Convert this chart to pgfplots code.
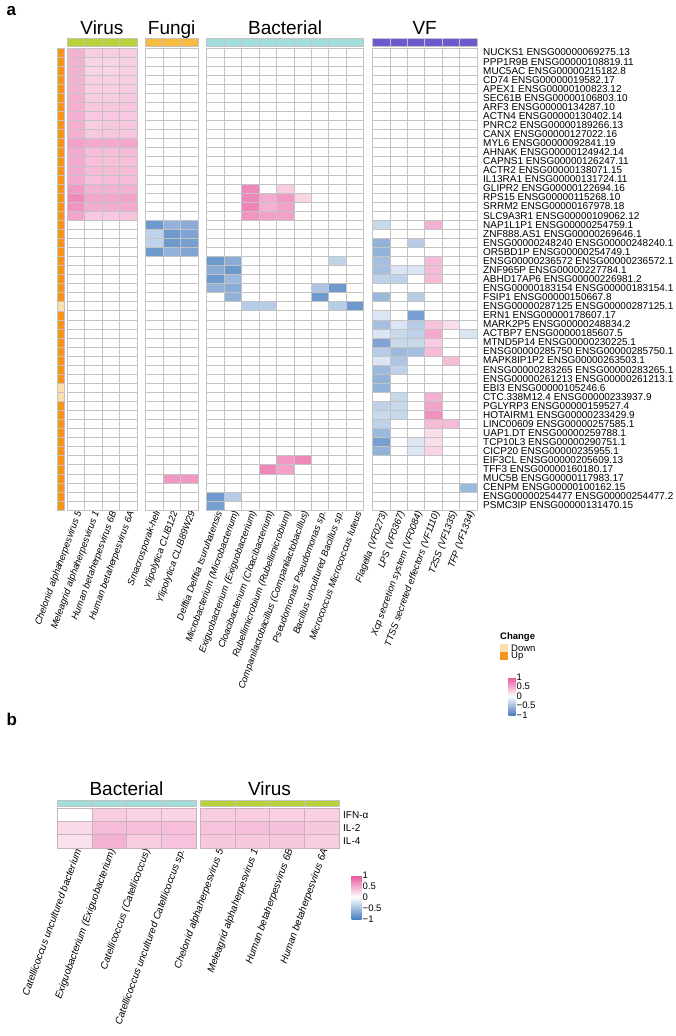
\documentclass[border=0pt]{standalone}
\usepackage{fontspec}
\setmainfont{Liberation Sans}
\usepackage{pgfplots}
\usepackage{pgfplotstable}
\pgfplotsset{compat=1.18}

\definecolor{gridc}{RGB}{195,195,195}
\definecolor{gridb}{RGB}{200,178,190}
\definecolor{upc}{RGB}{247,148,29}
\definecolor{downc}{RGB}{252,223,175}
\definecolor{virc}{RGB}{184,211,58}
\definecolor{fungc}{RGB}{245,186,64}
\definecolor{bactc}{RGB}{160,221,219}
\definecolor{vfc}{RGB}{106,90,205}

\newcommand{\lab}{\fontsize{10}{12}\selectfont}
\newcommand{\clab}{\fontsize{9.5}{11}\selectfont}
\newcommand{\leg}{\fontsize{9.5}{11}\selectfont}
\newcommand{\ttl}{\fontsize{19}{22}\selectfont}

% cell shapes, in the units of the two heatmaps
\pgfdeclareplotmark{cella}{\pgfpathrectangle{\pgfpoint{-8.72pt}{-4.53pt}}{\pgfpoint{17.45pt}{9.06pt}}\pgfusepathqfillstroke}
\pgfdeclareplotmark{bara}{\pgfpathrectangle{\pgfpoint{-8.72pt}{-4pt}}{\pgfpoint{17.45pt}{8pt}}\pgfusepathqfillstroke}
\pgfdeclareplotmark{stripa}{\pgfpathrectangle{\pgfpoint{-3.5pt}{-4.53pt}}{\pgfpoint{7pt}{9.06pt}}\pgfusepathqfillstroke}
\pgfdeclareplotmark{cellb}{\pgfpathrectangle{\pgfpoint{-17.37pt}{-6.67pt}}{\pgfpoint{34.75pt}{13.33pt}}\pgfusepathqfillstroke}
\pgfdeclareplotmark{barb}{\pgfpathrectangle{\pgfpoint{-17.37pt}{-3pt}}{\pgfpoint{34.75pt}{6pt}}\pgfusepathqfillstroke}

\pgfplotsset{
  heat/.style={scatter, only marks, mark=#1,
    scatter/use mapped color={draw=gridc, fill=mapped color},
    mark options={line width=0.5pt}},
  heatb/.style={scatter, only marks, mark=cellb,
    scatter/use mapped color={draw=gridb, fill=mapped color},
    mark options={line width=0.5pt}},
}

% panel a: one row per gene, one column per taxon / factor
\pgfplotstableread{
row c1 c2 c3 c4
1 0.45 0.30 0.30 0.30
2 0.45 0.25 0.25 0.28
3 0.45 0.25 0.25 0.28
4 0.45 0.28 0.28 0.30
5 0.45 0.28 0.28 0.30
6 0.47 0.30 0.30 0.32
7 0.47 0.32 0.32 0.34
8 0.47 0.32 0.32 0.32
9 0.47 0.30 0.32 0.32
10 0.47 0.32 0.34 0.34
11 0.55 0.50 0.50 0.52
12 0.50 0.38 0.38 0.40
13 0.50 0.38 0.38 0.38
14 0.50 0.40 0.40 0.40
15 0.50 0.38 0.40 0.40
16 0.60 0.45 0.45 0.45
17 0.68 0.52 0.52 0.55
18 0.62 0.48 0.48 0.50
19 0.52 0.32 0.32 0.35
20 0 0 0 0
21 0 0 0 0
22 0 0 0 0
23 0 0 0 0
24 0 0 0 0
25 0 0 0 0
26 0 0 0 0
27 0 0 0 0
28 0 0 0 0
29 0 0 0 0
30 0 0 0 0
31 0 0 0 0
32 0 0 0 0
33 0 0 0 0
34 0 0 0 0
35 0 0 0 0
36 0 0 0 0
37 0 0 0 0
38 0 0 0 0
39 0 0 0 0
40 0 0 0 0
41 0 0 0 0
42 0 0 0 0
43 0 0 0 0
44 0 0 0 0
45 0 0 0 0
46 0 0 0 0
47 0 0 0 0
48 0 0 0 0
49 0 0 0 0
50 0 0 0 0
51 0 0 0 0
}\virus

\pgfplotstableread{
row c1 c2 c3
1 0 0 0
2 0 0 0
3 0 0 0
4 0 0 0
5 0 0 0
6 0 0 0
7 0 0 0
8 0 0 0
9 0 0 0
10 0 0 0
11 0 0 0
12 0 0 0
13 0 0 0
14 0 0 0
15 0 0 0
16 0 0 0
17 0 0 0
18 0 0 0
19 0 0 0
20 -0.80 -0.60 -0.65
21 -0.35 -0.80 -0.70
22 -0.35 -0.80 -0.75
23 -0.80 -0.60 -0.70
24 0 0 0
25 0 0 0
26 0 0 0
27 0 0 0
28 0 0 0
29 0 0 0
30 0 0 0
31 0 0 0
32 0 0 0
33 0 0 0
34 0 0 0
35 0 0 0
36 0 0 0
37 0 0 0
38 0 0 0
39 0 0 0
40 0 0 0
41 0 0 0
42 0 0 0
43 0 0 0
44 0 0 0
45 0 0 0
46 0 0 0
47 0 0 0
48 0 0.60 0.60
49 0 0 0
50 0 0 0
51 0 0 0
}\fungi

\pgfplotstableread{
row c1 c2 c3 c4 c5 c6 c7 c8 c9
1 0 0 0 0 0 0 0 0 0
2 0 0 0 0 0 0 0 0 0
3 0 0 0 0 0 0 0 0 0
4 0 0 0 0 0 0 0 0 0
5 0 0 0 0 0 0 0 0 0
6 0 0 0 0 0 0 0 0 0
7 0 0 0 0 0 0 0 0 0
8 0 0 0 0 0 0 0 0 0
9 0 0 0 0 0 0 0 0 0
10 0 0 0 0 0 0 0 0 0
11 0 0 0 0 0 0 0 0 0
12 0 0 0 0 0 0 0 0 0
13 0 0 0 0 0 0 0 0 0
14 0 0 0 0 0 0 0 0 0
15 0 0 0 0 0 0 0 0 0
16 0 0 0.70 0 0.30 0 0 0 0
17 0 0 0.70 0.50 0.60 0.25 0 0 0
18 0 0 0.72 0.45 0.55 0 0 0 0
19 0 0 0.62 0.55 0.55 0 0 0 0
20 0 0 0 0 0 0 0 0 0
21 0 0 0 0 0 0 0 0 0
22 0 0 0 0 0 0 0 0 0
23 0 0 0 0 0 0 0 0 0
24 -0.80 -0.65 0 0 0 0 0 -0.35 0
25 -0.65 -0.80 0 0 0 0 0 0 0
26 -0.80 -0.55 0 0 0 0 0 0 0
27 -0.60 -0.65 0 0 0 0 -0.45 -0.80 0
28 0 -0.60 0 0 0 0 -0.80 0 0
29 0 0 -0.40 -0.40 0 0 0 -0.40 -0.80
30 0 0 0 0 0 0 0 0 0
31 0 0 0 0 0 0 0 0 0
32 0 0 0 0 0 0 0 0 0
33 0 0 0 0 0 0 0 0 0
34 0 0 0 0 0 0 0 0 0
35 0 0 0 0 0 0 0 0 0
36 0 0 0 0 0 0 0 0 0
37 0 0 0 0 0 0 0 0 0
38 0 0 0 0 0 0 0 0 0
39 0 0 0 0 0 0 0 0 0
40 0 0 0 0 0 0 0 0 0
41 0 0 0 0 0 0 0 0 0
42 0 0 0 0 0 0 0 0 0
43 0 0 0 0 0 0 0 0 0
44 0 0 0 0 0 0 0 0 0
45 0 0 0 0 0 0 0 0 0
46 0 0 0 0 0.60 0.70 0 0 0
47 0 0 0 0.70 0.55 0 0 0 0
48 0 0 0 0 0 0 0 0 0
49 0 0 0 0 0 0 0 0 0
50 -0.80 -0.40 0 0 0 0 0 0 0
51 -0.75 0 0 0 0 0 0 0 0
}\bact

\pgfplotstableread{
row c1 c2 c3 c4 c5 c6
1 0 0 0 0 0 0
2 0 0 0 0 0 0
3 0 0 0 0 0 0
4 0 0 0 0 0 0
5 0 0 0 0 0 0
6 0 0 0 0 0 0
7 0 0 0 0 0 0
8 0 0 0 0 0 0
9 0 0 0 0 0 0
10 0 0 0 0 0 0
11 0 0 0 0 0 0
12 0 0 0 0 0 0
13 0 0 0 0 0 0
14 0 0 0 0 0 0
15 0 0 0 0 0 0
16 0 0 0 0 0 0
17 0 0 0 0 0 0
18 0 0 0 0 0 0
19 0 0 0 0 0 0
20 -0.30 0 0 0.45 0 0
21 0 0 0 0 0 0
22 -0.60 0 -0.40 0 0 0
23 -0.60 0 0 0 0 0
24 -0.50 0 0 0.40 0 0
25 -0.50 -0.20 -0.20 0.40 0 0
26 -0.35 -0.35 0 0.40 0 0
27 0 0 0 0 0 0
28 -0.55 0 -0.40 0 0 0
29 0 0 0 0 0 0
30 -0.20 0 -0.75 0 0 0
31 -0.50 -0.20 -0.40 0.35 0.20 0
32 -0.20 -0.30 -0.35 0.50 0 -0.20
33 -0.70 -0.30 -0.30 0.30 0 0
34 -0.40 -0.55 -0.50 0.40 0 0
35 -0.20 -0.45 0 0 0.40 0
36 -0.55 -0.35 0 0 0 0
37 -0.60 0 0 0 0 0
38 -0.60 0 0 0 0 0
39 0 -0.30 0 0.45 0 0
40 -0.35 -0.30 0 0.55 0 0
41 -0.30 -0.30 0 0.65 0 0
42 -0.35 0 0 0.40 0.40 0
43 -0.55 0 0 0.20 0 0
44 -0.75 0 -0.20 0.20 0 0
45 -0.60 0 -0.20 0.25 0 0
46 0 0 0 0 0 0
47 0 0 0 0 0 0
48 0 0 0 0 0 0
49 0 0 0 0 0 -0.55
50 0 0 0 0 0 0
51 0 0 0 0 0 0
}\vf

% panel b: IFN-a, IL-2, IL-4
\pgfplotstableread{
row c1 c2 c3 c4
1 0 0.30 0.25 0.25
2 0.22 0.40 0.38 0.38
3 0.18 0.45 0.30 0.35
}\cytobact
\pgfplotstableread{
row c1 c2 c3 c4
1 0.30 0.30 0.28 0.28
2 0.35 0.38 0.36 0.33
3 0.33 0.33 0.33 0.30
}\cytovir

\begin{document}
\begin{tikzpicture}
\path[use as bounding box] (0,0) rectangle (675pt,-1036pt);

\begin{axis}[
  name=pa, at={(67pt,-48pt)}, anchor=north west,
  scale only axis, width=410pt, height=462pt,
  xmin=-0.5, xmax=23, ymin=-51.5, ymax=-0.5,
  clip=false,
  axis line style={draw=none}, major tick length=0pt,
  colormap={bwp}{rgb255(0cm)=(74,127,193) rgb255(1cm)=(255,255,255) rgb255(2cm)=(231,84,156)},
  point meta min=-1, point meta max=1,
  xtick={0,1,2,3,4.5,5.5,6.5,8,9,10,11,12,13,14,15,16,17.5,18.5,19.5,20.5,21.5,22.5},
  xticklabels={Chelonid alphaherpesvirus 5, Meleagrid alphaherpesvirus 1,
    Human betaherpesvirus 6B, Human betaherpesvirus 6A,
    Smacrosporak-hell, Ylipolytica CLIB122, Ylipolytica CLIB89W29,
    Delftia Delftia tsuruhatensis, Microbacterium (Microbacterium),
    Exiguobacterium (Exiguobacterium), Cloacibacterium (Cloacibacterium),
    Rubellimicrobium (Rubellimicrobium), Companilactobacillus (Companilactobacillus),
    Pseudomonas Pseudomonas sp., Bacillus uncultured Bacillus sp.,
    Micrococcus Micrococcus luteus,
    Flagella (VF0273), LPS (VF0367), Xcp secretion system (VF0084),
    TTSS secreted effectors (VF1110), T2SS (VF1335), TFP (VF1334)},
  xticklabel style={rotate=70, anchor=east, font=\clab\itshape, inner sep=0pt, yshift=-4pt},
  ytick={-51,-50,...,-1},
  yticklabels={PSMC3IP ENSG00000131470.15, ENSG00000254477 ENSG00000254477.2,
    CENPM ENSG00000100162.15, MUC5B ENSG00000117983.17, TFF3 ENSG00000160180.17,
    EIF3CL ENSG00000205609.13, CICP20 ENSG00000235955.1, TCP10L3 ENSG00000290751.1,
    UAP1.DT ENSG00000259788.1, LINC00609 ENSG00000257585.1, HOTAIRM1 ENSG00000233429.9,
    PGLYRP3 ENSG00000159527.4, CTC.338M12.4 ENSG00000233937.9, EBI3 ENSG00000105246.6,
    ENSG00000261213 ENSG00000261213.1, ENSG00000283265 ENSG00000283265.1,
    MAPK8IP1P2 ENSG00000263503.1, ENSG00000285750 ENSG00000285750.1,
    MTND5P14 ENSG00000230225.1, ACTBP7 ENSG00000185607.5, MARK2P5 ENSG00000248834.2,
    ERN1 ENSG00000178607.17, ENSG00000287125 ENSG00000287125.1, FSIP1 ENSG00000150667.8,
    ENSG00000183154 ENSG00000183154.1, ABHD17AP6 ENSG00000226981.2,
    ZNF965P ENSG00000227784.1, ENSG00000236572 ENSG00000236572.1,
    OR5BD1P ENSG00000254749.1, ENSG00000248240 ENSG00000248240.1,
    ZNF888.AS1 ENSG00000269646.1, NAP1L1P1 ENSG00000254759.1,
    SLC9A3R1 ENSG00000109062.12, SRRM2 ENSG00000167978.18, RPS15 ENSG00000115268.10,
    GLIPR2 ENSG00000122694.16, IL13RA1 ENSG00000131724.11, ACTR2 ENSG00000138071.15,
    CAPNS1 ENSG00000126247.11, AHNAK ENSG00000124942.14, MYL6 ENSG00000092841.19,
    CANX ENSG00000127022.16, PNRC2 ENSG00000189266.13, ACTN4 ENSG00000130402.14,
    ARF3 ENSG00000134287.10, SEC61B ENSG00000106803.10, APEX1 ENSG00000100823.12,
    CD74 ENSG00000019582.17, MUC5AC ENSG00000215182.8, PPP1R9B ENSG00000108819.11,
    NUCKS1 ENSG00000069275.13},
  yticklabel pos=right,
  yticklabel style={anchor=west, font=\lab, inner sep=0pt, xshift=6pt},
  colorbar,
  colorbar style={at={(parent axis.north east)}, anchor=north west,
    xshift=23pt, yshift=-629pt, scale only axis, width=7pt, height=38pt,
    ytick={-1,-0.5,0,0.5,1}, yticklabels={−1,−0.5,0,0.5,1},
    yticklabel style={font=\leg, inner sep=1pt},
    axis line style={draw=none}, major tick length=0pt},
]
% Virus
\addplot[heat=cella, point meta=\thisrow{c1}] table[x expr=0, y expr=-\thisrow{row}] {\virus};
\addplot[heat=cella, point meta=\thisrow{c2}] table[x expr=1, y expr=-\thisrow{row}] {\virus};
\addplot[heat=cella, point meta=\thisrow{c3}] table[x expr=2, y expr=-\thisrow{row}] {\virus};
\addplot[heat=cella, point meta=\thisrow{c4}] table[x expr=3, y expr=-\thisrow{row}] {\virus};
% Fungi
\addplot[heat=cella, point meta=\thisrow{c1}] table[x expr=4.5, y expr=-\thisrow{row}] {\fungi};
\addplot[heat=cella, point meta=\thisrow{c2}] table[x expr=5.5, y expr=-\thisrow{row}] {\fungi};
\addplot[heat=cella, point meta=\thisrow{c3}] table[x expr=6.5, y expr=-\thisrow{row}] {\fungi};
% Bacterial
\addplot[heat=cella, point meta=\thisrow{c1}] table[x expr=8, y expr=-\thisrow{row}] {\bact};
\addplot[heat=cella, point meta=\thisrow{c2}] table[x expr=9, y expr=-\thisrow{row}] {\bact};
\addplot[heat=cella, point meta=\thisrow{c3}] table[x expr=10, y expr=-\thisrow{row}] {\bact};
\addplot[heat=cella, point meta=\thisrow{c4}] table[x expr=11, y expr=-\thisrow{row}] {\bact};
\addplot[heat=cella, point meta=\thisrow{c5}] table[x expr=12, y expr=-\thisrow{row}] {\bact};
\addplot[heat=cella, point meta=\thisrow{c6}] table[x expr=13, y expr=-\thisrow{row}] {\bact};
\addplot[heat=cella, point meta=\thisrow{c7}] table[x expr=14, y expr=-\thisrow{row}] {\bact};
\addplot[heat=cella, point meta=\thisrow{c8}] table[x expr=15, y expr=-\thisrow{row}] {\bact};
\addplot[heat=cella, point meta=\thisrow{c9}] table[x expr=16, y expr=-\thisrow{row}] {\bact};
% VF
\addplot[heat=cella, point meta=\thisrow{c1}] table[x expr=17.5, y expr=-\thisrow{row}] {\vf};
\addplot[heat=cella, point meta=\thisrow{c2}] table[x expr=18.5, y expr=-\thisrow{row}] {\vf};
\addplot[heat=cella, point meta=\thisrow{c3}] table[x expr=19.5, y expr=-\thisrow{row}] {\vf};
\addplot[heat=cella, point meta=\thisrow{c4}] table[x expr=20.5, y expr=-\thisrow{row}] {\vf};
\addplot[heat=cella, point meta=\thisrow{c5}] table[x expr=21.5, y expr=-\thisrow{row}] {\vf};
\addplot[heat=cella, point meta=\thisrow{c6}] table[x expr=22.5, y expr=-\thisrow{row}] {\vf};

% group bars on top
\addplot[only marks, mark=bara, mark options={fill=virc, draw=gridc, line width=0.5pt}]
  coordinates {(0,0.162) (1,0.162) (2,0.162) (3,0.162)};
\addplot[only marks, mark=bara, mark options={fill=fungc, draw=gridc, line width=0.5pt}]
  coordinates {(4.5,0.162) (5.5,0.162) (6.5,0.162)};
\addplot[only marks, mark=bara, mark options={fill=bactc, draw=gridc, line width=0.5pt}]
  coordinates {(8,0.162) (9,0.162) (10,0.162) (11,0.162) (12,0.162) (13,0.162) (14,0.162) (15,0.162) (16,0.162)};
\addplot[only marks, mark=bara, mark options={fill=vfc, draw=gridc, line width=0.5pt}]
  coordinates {(17.5,0.162) (18.5,0.162) (19.5,0.162) (20.5,0.162) (21.5,0.162) (22.5,0.162)};

% change strip on the left
\addplot[only marks, mark=stripa, mark options={fill=upc, draw=gridc, line width=0.4pt}]
  coordinates {(-0.872,-1) (-0.872,-2) (-0.872,-3) (-0.872,-4) (-0.872,-5) (-0.872,-6)
  (-0.872,-7) (-0.872,-8) (-0.872,-9) (-0.872,-10) (-0.872,-11) (-0.872,-12)
  (-0.872,-13) (-0.872,-14) (-0.872,-15) (-0.872,-16) (-0.872,-17) (-0.872,-18)
  (-0.872,-19) (-0.872,-20) (-0.872,-21) (-0.872,-22) (-0.872,-23) (-0.872,-24)
  (-0.872,-25) (-0.872,-26) (-0.872,-27) (-0.872,-28) (-0.872,-30) (-0.872,-31)
  (-0.872,-32) (-0.872,-33) (-0.872,-34) (-0.872,-35) (-0.872,-36) (-0.872,-37)
  (-0.872,-40) (-0.872,-41) (-0.872,-42) (-0.872,-43) (-0.872,-44) (-0.872,-45)
  (-0.872,-46) (-0.872,-47) (-0.872,-48) (-0.872,-49) (-0.872,-50) (-0.872,-51)};
\addplot[only marks, mark=stripa, mark options={fill=downc, draw=gridc, line width=0.4pt}]
  coordinates {(-0.872,-29) (-0.872,-38) (-0.872,-39)};

\node[anchor=base, font=\ttl] at (axis cs:1.5,1.045) {Virus};
\node[anchor=base, font=\ttl] at (axis cs:5.5,1.045) {Fungi};
\node[anchor=base, font=\ttl] at (axis cs:12,1.045) {Bacterial};
\node[anchor=base, font=\ttl] at (axis cs:20,1.045) {VF};
\end{axis}

\begin{axis}[
  name=pb, at={(57pt,-808pt)}, anchor=north west,
  scale only axis, width=282pt, height=40pt,
  xmin=-0.5, xmax=7.615, ymin=-3.5, ymax=-0.5,
  clip=false,
  axis line style={draw=none}, major tick length=0pt,
  colormap={bwp}{rgb255(0cm)=(74,127,193) rgb255(1cm)=(255,255,255) rgb255(2cm)=(231,84,156)},
  point meta min=-1, point meta max=1,
  xtick={0,1,2,3,4.115,5.115,6.115,7.115},
  xticklabels={Catellicoccus uncultured bacterium, Exiguobacterium (Exiguobacterium),
    Catellicoccus (Catellicoccus), Catellicoccus uncultured Catellicoccus sp.,
    Chelonid alphaherpesvirus 5, Meleagrid alphaherpesvirus 1,
    Human betaherpesvirus 6B, Human betaherpesvirus 6A},
  xticklabel style={rotate=70, anchor=east, font=\lab\itshape, inner sep=0pt, yshift=-4pt},
  ytick={-3,-2,-1}, yticklabels={IL-4, IL-2, IFN-α},
  yticklabel pos=right,
  yticklabel style={anchor=west, font=\lab, inner sep=0pt, xshift=4pt},
  colorbar,
  colorbar style={at={(parent axis.north east)}, anchor=north west,
    xshift=4pt, yshift=-67pt, scale only axis, width=10pt, height=44pt,
    ytick={-1,-0.5,0,0.5,1}, yticklabels={−1,−0.5,0,0.5,1},
    yticklabel style={font=\leg, inner sep=1pt},
    axis line style={draw=none}, major tick length=0pt},
]
\addplot[heatb, point meta=\thisrow{c1}] table[x expr=0, y expr=-\thisrow{row}] {\cytobact};
\addplot[heatb, point meta=\thisrow{c2}] table[x expr=1, y expr=-\thisrow{row}] {\cytobact};
\addplot[heatb, point meta=\thisrow{c3}] table[x expr=2, y expr=-\thisrow{row}] {\cytobact};
\addplot[heatb, point meta=\thisrow{c4}] table[x expr=3, y expr=-\thisrow{row}] {\cytobact};
\addplot[heatb, point meta=\thisrow{c1}] table[x expr=4.115, y expr=-\thisrow{row}] {\cytovir};
\addplot[heatb, point meta=\thisrow{c2}] table[x expr=5.115, y expr=-\thisrow{row}] {\cytovir};
\addplot[heatb, point meta=\thisrow{c3}] table[x expr=6.115, y expr=-\thisrow{row}] {\cytovir};
\addplot[heatb, point meta=\thisrow{c4}] table[x expr=7.115, y expr=-\thisrow{row}] {\cytovir};

\addplot[only marks, mark=barb, mark options={fill=bactc, draw=gridc, line width=0.5pt}]
  coordinates {(0,-0.125) (1,-0.125) (2,-0.125) (3,-0.125)};
\addplot[only marks, mark=barb, mark options={fill=virc, draw=gridc, line width=0.5pt}]
  coordinates {(4.115,-0.125) (5.115,-0.125) (6.115,-0.125) (7.115,-0.125)};

\node[anchor=base, font=\ttl] at (axis cs:1.5,0.475) {Bacterial};
\node[anchor=base, font=\ttl] at (axis cs:5.615,0.475) {Virus};
\end{axis}

% panel letters and the Change legend
\node[anchor=base west, font=\bfseries\fontsize{17}{17}\selectfont] at (3pt,-16pt) {a};
\node[anchor=base west, font=\bfseries\fontsize{17}{17}\selectfont] at (3pt,-725pt) {b};
\node[anchor=base west, font=\bfseries\leg, inner sep=0pt] at (500pt,-639pt) {Change};
\fill[downc] (500pt,-644pt) rectangle (508pt,-652pt);
\fill[upc] (500pt,-652pt) rectangle (508pt,-660pt);
\node[anchor=west, font=\leg, inner sep=0pt] at (511pt,-648pt) {Down};
\node[anchor=west, font=\leg, inner sep=0pt] at (511pt,-656pt) {Up};
\end{tikzpicture}
\end{document}
